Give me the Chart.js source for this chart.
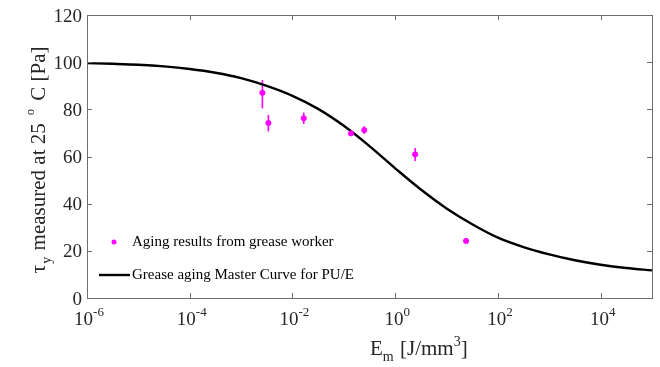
<!DOCTYPE html>
<html>
<head>
<meta charset="utf-8">
<script src="https://cdn.jsdelivr.net/npm/chart.js@4.4.1/dist/chart.umd.min.js"></script>
<style>
  html, body { margin: 0; background: #fff; }
  #wrap { width: 660px; height: 367px; position: relative; }
</style>
</head>
<body>
<div id="wrap"><canvas id="chart"></canvas></div>
<script>
'use strict';

// ─── Measured aging results (grease worker) ───────────────────────
const energy = [0.0026, 0.0034, 0.0166, 0.138, 0.25, 2.45, 24];
const tauY = [87.0, 74.2, 76.2, 69.8, 71.2, 60.9, 24.2];
const errUp = [5.4, 3.4, 2.4, 0.9, 1.6, 2.7, 0.6];
const errDown = [6.6, 3.6, 2.4, 0.9, 1.6, 2.8, 0.6];

// ─── Master curve for PU/E ────────────────────────────────────────
const curveEnergy = [1e-6, 3.16e-6, 1e-5, 3.16e-5, 1e-4, 3.16e-4, 1e-3, 3.16e-3, 1e-2, 3.16e-2,
  0.1, 0.316, 1, 3.16, 10, 31.6, 100, 316, 1000, 3160, 1e4, 3.16e4, 1e5];
const curveTau = [99.6, 99.3, 98.9, 98.2, 97.1, 95.5, 93.2, 89.9, 85.7, 80.2,
  73.0, 64.4, 55.0, 46.0, 38.0, 31.3, 25.6, 21.6, 18.5, 16.0, 14.1, 12.7, 11.7];

// ─── Axis ticks ───────────────────────────────────────────────────
const xTickValues = [1e-6, 1e-4, 1e-2, 1, 1e2, 1e4];
const xTickExponents = ['-6', '-4', '-2', '0', '2', '4'];
const yTickValues = [0, 20, 40, 60, 80, 100, 120];

const SERIF = '"Liberation Serif", "Times New Roman", serif';
const MAGENTA = '#ff00ff';
const AXIS = '#6e6e6e';
const LABEL = '#262626';

// draws a run of [text, fontSize, yShift, extraGap] pieces starting at x
function drawRuns(ctx, runs, x, y) {
  for (const [txt, size, dy, gap = 0] of runs) {
    ctx.font = `${size}px ${SERIF}`;
    ctx.fillText(txt, x, y + dy);
    x += ctx.measureText(txt).width + gap;
  }
  return x;
}
function runsWidth(ctx, runs) {
  let w = 0;
  for (const [txt, size, , gap = 0] of runs) {
    ctx.font = `${size}px ${SERIF}`;
    w += ctx.measureText(txt).width + gap;
  }
  return w;
}

// error bars under the markers
const errorBars = {
  id: 'errorBars',
  beforeDatasetsDraw(chart) {
    const { ctx, scales: { x, y } } = chart;
    ctx.save();
    ctx.strokeStyle = MAGENTA;
    ctx.lineWidth = 1.6;
    energy.forEach((e, i) => {
      const px = x.getPixelForValue(e);
      ctx.beginPath();
      ctx.moveTo(px, y.getPixelForValue(tauY[i] + errUp[i]));
      ctx.lineTo(px, y.getPixelForValue(tauY[i] - errDown[i]));
      ctx.stroke();
    });
    ctx.restore();
  },
};

// box, inward ticks, tick labels, axis titles and legend
const frame = {
  id: 'frame',
  afterDraw(chart) {
    const { ctx, chartArea: a, scales: { x, y } } = chart;
    ctx.save();
    ctx.strokeStyle = AXIS;
    ctx.lineWidth = 1;
    ctx.strokeRect(Math.round(a.left) + 0.5, Math.round(a.top) + 0.5,
      Math.round(a.right - a.left), Math.round(a.bottom - a.top));

    const tl = 5;
    ctx.beginPath();
    xTickValues.forEach(v => {
      const px = Math.round(x.getPixelForValue(v)) + 0.5;
      ctx.moveTo(px, a.bottom); ctx.lineTo(px, a.bottom - tl);
      ctx.moveTo(px, a.top); ctx.lineTo(px, a.top + tl);
    });
    yTickValues.forEach(v => {
      const py = Math.round(y.getPixelForValue(v)) + 0.5;
      ctx.moveTo(a.left, py); ctx.lineTo(a.left + tl, py);
      ctx.moveTo(a.right, py); ctx.lineTo(a.right - tl, py);
    });
    ctx.stroke();

    ctx.fillStyle = LABEL;
    ctx.textBaseline = 'alphabetic';

    // y tick labels
    ctx.textAlign = 'right';
    ctx.font = `19px ${SERIF}`;
    yTickValues.forEach(v => {
      ctx.fillText(String(v), a.left - 5, y.getPixelForValue(v) + 6.5);
    });

    // x tick labels: 10 with a raised exponent
    ctx.textAlign = 'left';
    xTickValues.forEach((v, i) => {
      const runs = [['10', 19, 0], [xTickExponents[i], 13, -9]];
      const w = runsWidth(ctx, runs);
      drawRuns(ctx, runs, x.getPixelForValue(v) - w / 2 + 2, 325);
    });

    // x title
    drawRuns(ctx, [['E', 21, 0], ['m', 14, 6, 1], [' [J/mm', 21, 0], ['3', 14, -9], [']', 21, 0]], 370, 355);

    // y title, rotated
    ctx.save();
    ctx.translate(45, 160);
    ctx.rotate(-Math.PI / 2);
    const yRuns = [['τ', 22, 0, 1], ['y', 14, 6, 1], [' measured at 25 ', 21, 0, 3],
      ['o', 12, -11, 3], [' C [Pa]', 21, 0]];
    drawRuns(ctx, yRuns, -runsWidth(ctx, yRuns) / 2, 0);
    ctx.restore();

    // legend
    ctx.fillStyle = '#000';
    ctx.font = `15px ${SERIF}`;
    ctx.textBaseline = 'middle';
    ctx.fillText('Aging results from grease worker', 132, 242);
    ctx.fillText('Grease aging Master Curve for PU/E', 132, 275);
    ctx.fillStyle = MAGENTA;
    ctx.beginPath();
    ctx.arc(114, 242, 2.5, 0, Math.PI * 2);
    ctx.fill();
    ctx.strokeStyle = '#000';
    ctx.lineWidth = 2.4;
    ctx.beginPath();
    ctx.moveTo(99, 275); ctx.lineTo(130, 275);
    ctx.stroke();
    ctx.restore();
  },
};

new Chart(document.getElementById('chart'), {
  type: 'scatter',
  data: {
    datasets: [
      {
        label: 'Grease aging Master Curve for PU/E',
        data: curveEnergy.map((e, i) => ({ x: e, y: curveTau[i] })),
        showLine: true,
        borderColor: '#000',
        borderWidth: 2.4,
        pointRadius: 0,
        cubicInterpolationMode: 'monotone',
        order: 2,
      },
      {
        label: 'Aging results from grease worker',
        data: energy.map((e, i) => ({ x: e, y: tauY[i] })),
        backgroundColor: MAGENTA,
        borderColor: MAGENTA,
        pointRadius: 2.6,
        pointStyle: 'circle',
        order: 1,
      },
    ],
  },
  options: {
    responsive: true,
    maintainAspectRatio: false,
    animation: false,
    layout: { padding: { left: 87, right: 8, top: 15, bottom: 69 } },
    scales: {
      x: {
        type: 'logarithmic',
        min: 1e-6,
        max: 1e5,
        grid: { display: false, drawTicks: false },
        border: { display: false },
        ticks: { display: false },
      },
      y: {
        min: 0,
        max: 120,
        grid: { display: false, drawTicks: false },
        border: { display: false },
        ticks: { display: false },
      },
    },
    plugins: {
      legend: { display: false },
      tooltip: { enabled: false },
    },
  },
  plugins: [errorBars, frame],
});
</script>
</body>
</html>
